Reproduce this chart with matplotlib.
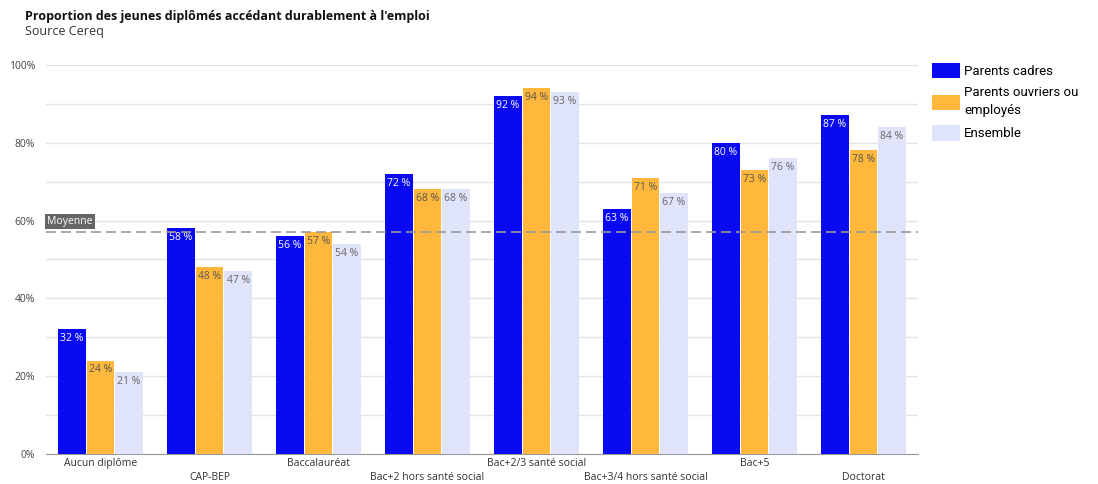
import matplotlib.pyplot as plt
import numpy as np

categories = ['Aucun diplôme', 'CAP-BEP', 'Baccalauréat', 'Bac+2 hors santé social',
              'Bac+2/3 santé social', 'Bac+3/4 hors santé social', 'Bac+5', 'Doctorat']
cadres = [32, 58, 56, 72, 92, 63, 80, 87]
ouvriers = [24, 48, 57, 68, 94, 71, 73, 78]
ensemble = [21, 47, 54, 68, 93, 67, 76, 84]
moyenne = 57

series = [('Parents cadres', cadres, '#0a0af2', 'white'),
          ('Parents ouvriers ou\nemployés', ouvriers, '#ffb83b', '#555555'),
          ('Ensemble', ensemble, '#e0e4fb', '#666666')]

plt.rcParams['font.family'] = ['Open Sans', 'DejaVu Sans']

fig = plt.figure(figsize=(10.98, 4.84), dpi=100)
ax = fig.add_axes([0.042, 0.062, 0.794, 0.804])

x = np.arange(len(categories))
w = 0.262
for i, (name, vals, col, tcol) in enumerate(series):
    pos = x + (i - 1) * w
    ax.bar(pos, vals, width=w * 0.97, color=col, label=name, zorder=3)
    for p, v in zip(pos, vals):
        ax.text(p, v - 1.0, f'{v} %', ha='center', va='top', fontsize=7.5,
                color=tcol, zorder=4)

ax.set_xlim(-0.5, len(categories) - 0.5)
ax.set_ylim(0, 100)
ax.set_yticks(range(0, 101, 20))
ax.set_yticklabels([f'{t}%' for t in range(0, 101, 20)], fontsize=7.5, color='#444444')
ax.set_yticks(range(10, 100, 20), minor=True)
ax.grid(axis='y', which='both', color='#e3e3e3', linewidth=1, zorder=0)
ax.tick_params(axis='y', which='both', length=0, pad=8)
ax.tick_params(axis='x', length=0)

ax.set_xticks(x)
ax.set_xticklabels(['' for _ in categories])
for i, c in enumerate(categories):
    yoff = -0.011 if i % 2 == 0 else -0.045
    ax.text(i, yoff, c, transform=ax.get_xaxis_transform(), ha='center', va='top',
            fontsize=7.5, color='#333333')

for s in ['top', 'right', 'left']:
    ax.spines[s].set_visible(False)
ax.spines['bottom'].set_color('#999999')

ax.axhline(moyenne, color='#999999', linestyle=(0, (6, 3)), linewidth=1.2, zorder=5)
ax.text(-0.49, moyenne + 1.3, 'Moyenne', fontsize=7.5, color='white', va='bottom', ha='left',
        bbox=dict(boxstyle='square,pad=0.2', facecolor='#666666', edgecolor='none'), zorder=6)

leg = fig.legend(loc='upper left', bbox_to_anchor=(0.838, 0.895), frameon=False,
                 handlelength=2.1, handleheight=1.45, labelspacing=0.6,
                 handletextpad=0.35, prop={'family': 'Roboto', 'size': 9.5})
for t in leg.get_texts():
    t.set_linespacing(1.5)

fig.text(0.023, 0.958, "Proportion des jeunes diplômés accédant durablement à l'emploi",
         fontsize=9, fontweight='bold', color='#111111')
fig.text(0.023, 0.927, 'Source Cereq', fontsize=9, color='#333333')

plt.savefig('out.png', dpi=100)
